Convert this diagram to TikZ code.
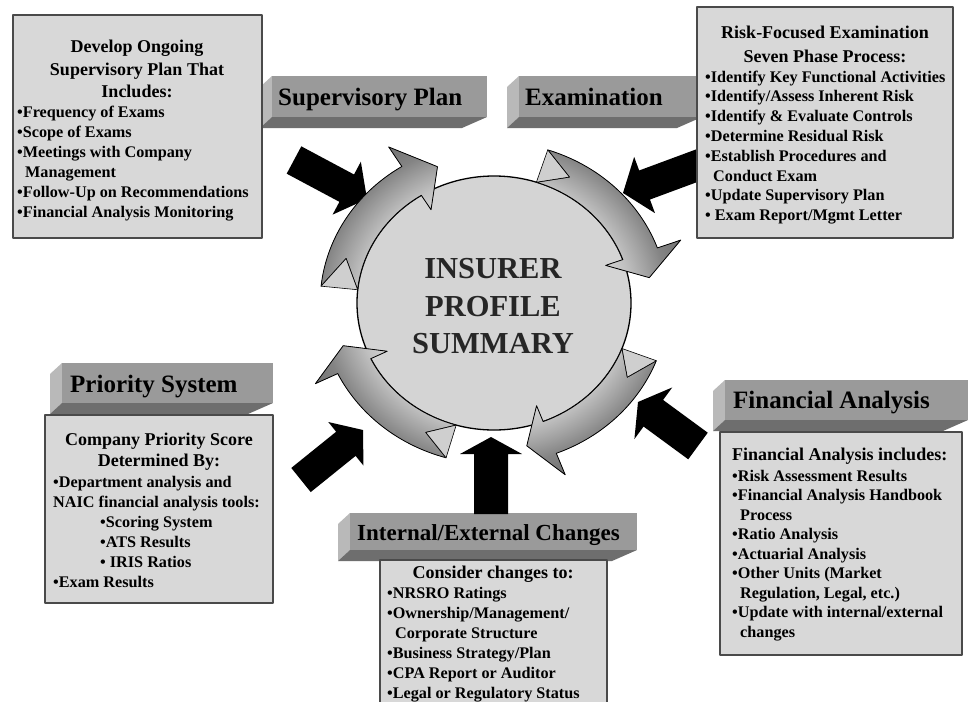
\documentclass[tikz,border=0pt]{standalone}
\usepackage{fontspec}
\setmainfont{Liberation Serif}
\usetikzlibrary{calc,shapes.geometric}
\definecolor{boxfill}{HTML}{D8D8D8}
\definecolor{boxline}{HTML}{4A4A4A}
\definecolor{bfront}{HTML}{9A9A9A}
\definecolor{bside}{HTML}{B9B9B9}
\definecolor{bbottom}{HTML}{6E6E6E}
\definecolor{circfill}{HTML}{D4D4D4}
\definecolor{notchfill}{HTML}{CFCFCF}
\definecolor{rA}{HTML}{D2D2D2}
\definecolor{rB}{HTML}{C0C0C0}
\definecolor{rC}{HTML}{A2A2A2}
\definecolor{rD}{HTML}{848484}
\definecolor{rE}{HTML}{707070}
\pgfdeclareradialshading{ringshade}{\pgfpoint{0bp}{0bp}}{color(0bp)=(rA); color(14.5bp)=(rA); color(16.7bp)=(rB); color(19bp)=(rC); color(21.2bp)=(rD); color(24.5bp)=(rE); color(50bp)=(rE)}

\tikzset{
  infobox/.style={draw=boxline, line width=1.6pt, fill=boxfill, rectangle, inner sep=0pt, outer sep=0pt, anchor=north west},
  ttl/.style={font=\fontsize{18}{22}\selectfont\bfseries, anchor=base, inner sep=0pt},
  itm/.style={font=\fontsize{16.2}{20}\selectfont\bfseries, anchor=base west, inner sep=0pt},
  bnr/.style={font=\fontsize{25}{30}\selectfont\bfseries, anchor=base west, inner sep=0pt},
  coretxt/.style={font=\fontsize{30.5}{37}\selectfont\bfseries, anchor=base, inner sep=0pt, text=black!85},
  ringline/.style={draw=black, line width=0.8pt},
  notchface/.style={fill=notchfill, draw=black, line width=0.6pt},
  blk/.style={fill=black}
}

\newcommand{\ringarrow}[4]{%
  \begin{scope}
    \clip plot[domain=#1:#2,samples=40] (\x:127) -- (#2:110) -- (#3:146) -- (#2:184) -- plot[domain=#2:#1,samples=40] (\x:161) -- (#4:144) -- cycle;
    \fill[shading=ringshade] (0,0) circle (190);
  \end{scope}
  \draw[ringline] plot[domain=#1:#2,samples=40] (\x:127) -- (#2:110) -- (#3:146) -- (#2:184) -- plot[domain=#2:#1,samples=40] (\x:161) -- (#4:144) -- cycle;
  \filldraw[notchface] (#1:127) -- (#4:144) -- (#1:161) -- cycle;
}

\newcommand{\blockarrow}[6]{%
  \coordinate (#1-b) at ($(#3)!#6!(#2)$);
  \fill[blk] ($(#2)!#4!90:(#3)$) -- ($(#1-b)!#4!90:(#3)$) -- ($(#1-b)!#5!90:(#3)$) -- (#3) -- ($(#1-b)!#5!-90:(#3)$) -- ($(#1-b)!#4!-90:(#3)$) -- ($(#2)!#4!-90:(#3)$) -- cycle;
}

\newcommand{\bannershape}[4]{%
  \fill[bside] (#1,#2) -- (#1-12,#2+11) -- (#1-12,#4+11) -- (#1,#4) -- cycle;
  \fill[bbottom] (#1,#4) -- (#3,#4) -- (#3-25,#4+11) -- (#1-12,#4+11) -- cycle;
  \fill[bfront] (#1,#2) rectangle (#3,#4);
}

\begin{document}
\begin{tikzpicture}[x=1pt,y=-1pt,line join=round]
\fill[white] (0,0) rectangle (970,702);
\useasboundingbox (0,0) rectangle (970,702);

% banners
\bannershape{272}{76}{487}{117}
\bannershape{519}{76}{702}{117}
\bannershape{725}{380}{968}{420}
\bannershape{62}{363}{273}{403}
\bannershape{350}{513}{637}{550}

% black arrows
\coordinate (spT) at (294,160); \coordinate (spH) at (367,199);
\coordinate (exT) at (704,163); \coordinate (exH) at (623,193);
\coordinate (psT) at (301,480); \coordinate (psH) at (363,430);
\coordinate (ieT) at (491,514); \coordinate (ieH) at (491,437);
\coordinate (faT) at (698,446); \coordinate (faH) at (638,402);
\blockarrow{aSP}{spT}{spH}{15.5pt}{30pt}{23pt}
\blockarrow{aEX}{exT}{exH}{15.5pt}{30pt}{23pt}
\blockarrow{aPS}{psT}{psH}{15.5pt}{28pt}{22pt}
\blockarrow{aIE}{ieT}{ieH}{17pt}{31pt}{17pt}
\blockarrow{aFA}{faT}{faH}{16.5pt}{32pt}{19pt}

% boxes
\node[infobox, minimum width=249pt, minimum height=223pt] (tlbox) at (13,15) {};
\node[infobox, minimum width=256pt, minimum height=231pt] (trbox) at (697,7) {};
\node[infobox, minimum width=228pt, minimum height=188pt] (blbox) at (45,415) {};
\node[infobox, minimum width=227pt, minimum height=160pt] (bcbox) at (380,560) {};
\node[infobox, minimum width=242pt, minimum height=223pt] (brbox) at (720,432) {};

% central circle
\node[ellipse, draw=black, line width=1.3pt, fill=circfill, minimum width=274pt, minimum height=254pt, inner sep=0pt] (core) at (494,303) {};

% ring of arrows
\begin{scope}[shift={(494,303)}, xscale=1.08, yscale=-1]
  \ringarrow{174}{122}{111}{162}
  \ringarrow{72}{20}{10}{61}
  \ringarrow{-21}{-69}{-78}{-31}
  \ringarrow{-106}{-154}{-163}{-116}
\end{scope}

% centre text
\node[coretxt] (c1) at (493,278) {INSURER};
\node[coretxt] (c2) at (493,316) {PROFILE};
\node[coretxt] (c3) at (493,353) {SUMMARY};

% banner labels
\node[bnr] (lsp) at (278,105) {Supervisory Plan};
\node[bnr] (lex) at (525,105) {Examination};
\node[bnr] (lfa) at (733,408) {Financial Analysis};
\node[bnr] (lps) at (70,392) {Priority System};
\node[bnr, font=\fontsize{23}{28}\selectfont\bfseries] (lie) at (357,540) {Internal/External Changes};

% top-left box text
\node[ttl] (tl-t1) at (137,52) {Develop Ongoing};
\node[ttl] (tl-t2) at (137,75) {Supervisory Plan That};
\node[ttl] (tl-t3) at (137,97) {Includes:};
\foreach \t [count=\i from 0] in {{•Frequency of Exams},{•Scope of Exams},{•Meetings with Company},{\hspace*{8pt}Management},{•Follow-Up on Recommendations},{•Financial Analysis Monitoring}}
  \node[itm] (tl-\i) at (17,117+20*\i) {\t};

% top-right box text
\node[ttl] (tr-t1) at (825,38) {Risk-Focused Examination};
\node[ttl] (tr-t2) at (825,62) {Seven Phase Process:};
\foreach \t [count=\i from 0] in {{•Identify Key Functional Activities},{•Identify/Assess Inherent Risk},{•Identify \& Evaluate Controls},{•Determine Residual Risk},{•Establish Procedures and},{\hspace*{8pt}Conduct Exam},{•Update Supervisory Plan},{•\ Exam Report/Mgmt Letter}}
  \node[itm] (tr-\i) at (705,82+19.8*\i) {\t};

% bottom-left box text
\node[ttl] (bl-t1) at (159,445) {Company Priority Score};
\node[ttl] (bl-t2) at (159,466) {Determined By:};
\node[itm] (bl-1) at (53,487) {•Department analysis and};
\node[itm] (bl-2) at (53,507) {NAIC financial analysis tools:};
\node[itm] (bl-3) at (100,527) {•Scoring System};
\node[itm] (bl-4) at (100,547) {•ATS Results};
\node[itm] (bl-5) at (100,567) {•\ IRIS Ratios};
\node[itm] (bl-6) at (53,587) {•Exam Results};

% bottom-centre box text
\node[ttl] (bc-t1) at (493,578) {Consider changes to:};
\foreach \t [count=\i from 0] in {{•NRSRO Ratings},{•Ownership/Management/},{\hspace*{8pt}Corporate Structure},{•Business Strategy/Plan},{•CPA Report or Auditor},{•Legal or Regulatory Status}}
  \node[itm] (bc-\i) at (387,598+20*\i) {\t};

% bottom-right box text
\node[ttl, anchor=base west] (br-t1) at (732,460) {Financial Analysis includes:};
\foreach \t [count=\i from 0] in {{•Risk Assessment Results},{•Financial Analysis Handbook},{\hspace*{8pt}Process},{•Ratio Analysis},{•Actuarial Analysis},{•Other Units (Market},{\hspace*{8pt}Regulation, Legal, etc.)},{•Update with internal/external},{\hspace*{8pt}changes}}
  \node[itm] (br-\i) at (732,481+19.5*\i) {\t};
\end{tikzpicture}
\end{document}
